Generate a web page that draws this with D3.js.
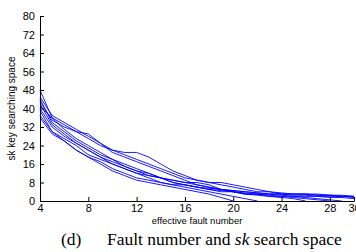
<!DOCTYPE html>
<html>
<head>
<meta charset="utf-8">
<script src="https://cdn.jsdelivr.net/npm/d3@7"></script>
<style>
  body { margin: 0; background: #fff; }
  svg text { font-family: "Liberation Sans", Arial, sans-serif; }
</style>
</head>
<body>
<div id="chart"></div>
<script>
// fault number on x, first sample at 4
const faultStart = 4;
const xTicks = [4, 8, 12, 16, 20, 24, 28, 30];
const yTicks = [0, 8, 16, 24, 32, 40, 48, 56, 64, 72, 80];

const run1 = [48, 36, 31, 27, 24, 21, 18, 16, 14, 12, 10, 9, 8, 7, 6, 5, 4.5, 4, 3.5, 3, 3, 2.5, 2.5, 2, 2, 2, 1.5];
const run2 = [44, 34, 30, 26, 23, 20, 18, 15, 13, 11, 10, 8, 7, 6, 5.5, 5, 4.5, 4, 3.5, 3, 2.5, 2, 1.5, 1, 0.5, 0];
const run3 = [43, 35, 32, 30, 29, 25, 21, 19, 17, 15, 13, 11, 9, 7, 6, 5, 4, 3, 2.5, 2, 1.5, 1, 0];
const run4 = [42, 33, 29, 25, 22, 19, 17, 15, 13, 12, 10, 9, 8, 8, 7, 5, 4, 3, 3, 3, 3, 3, 3, 2.5, 2.5, 2, 2];
const run5 = [41, 36, 33, 30, 27, 24, 22, 21, 21, 19, 16, 13, 11, 9, 8, 8, 7, 6, 5, 4, 3, 3, 3, 3, 2.5, 2.5, 2];
const run6 = [40, 32, 28, 25, 22, 19, 16, 14, 12, 10, 8, 7, 6, 5, 4, 3, 2, 1, 0];
const run7 = [39, 30, 27, 24, 20, 18, 16, 14, 12, 11, 10, 8, 7, 6, 5, 4.5, 4, 3.5, 3, 2.5, 2, 1.5, 1, 0.5, 0];
const run8 = [37, 30, 26, 22, 19, 16, 13, 11, 9, 8, 7, 6, 5, 4, 3, 1.5, 0];
const run9 = [36, 29, 26, 22, 19, 17, 14, 12, 10, 9, 8, 7, 7, 6, 5, 4, 4, 3, 3, 2, 2, 2, 2, 2, 1.5, 1.5, 1];
const run10 = [45, 37, 34, 31, 28, 25, 22, 20, 18, 16, 14, 12, 10, 9, 8, 7, 6, 5, 4, 4, 3.5, 3, 3, 2.5, 2.5, 2, 2];
const runs = [run1, run2, run3, run4, run5, run6, run7, run8, run9, run10];

const width = 356, height = 252;
const margin = {top: 16, right: 2, bottom: 51, left: 40};

const svg = d3.select("#chart").append("svg")
    .attr("width", width)
    .attr("height", height);

const x = d3.scaleLinear().domain([4, 30]).range([margin.left, 354]);
const y = d3.scaleLinear().domain([0, 80]).range([height - margin.bottom, margin.top]);

const line = d3.line()
    .x((d, i) => x(faultStart + i))
    .y(d => y(d));

svg.append("g")
    .attr("fill", "none")
    .attr("stroke", "#0000ff")
    .attr("stroke-width", 0.9)
  .selectAll("path")
  .data(runs)
  .join("path")
    .attr("d", line);

// axes, matlab style ticks pointing inward
const xAxis = svg.append("g")
    .attr("transform", `translate(0,${y(0)})`)
    .call(d3.axisBottom(x).tickValues(xTicks).tickSizeInner(-4).tickSizeOuter(0).tickPadding(3));

const yAxis = svg.append("g")
    .attr("transform", `translate(${x(4)},0)`)
    .call(d3.axisLeft(y).tickValues(yTicks).tickSizeInner(-4).tickSizeOuter(0).tickPadding(5));

[xAxis, yAxis].forEach(g => {
  g.select(".domain").attr("stroke", "#000").attr("stroke-width", 1);
  g.selectAll(".tick line").attr("stroke", "#000");
  g.selectAll(".tick text").attr("font-size", 11).attr("fill", "#000")
      .style("font-family", "'Liberation Sans', Arial, sans-serif");
});

svg.append("text")
    .attr("x", 197)
    .attr("y", 224)
    .attr("text-anchor", "middle")
    .attr("font-size", 9.5)
    .text("effective fault number");

svg.append("text")
    .attr("transform", `translate(15,${(y(0) + y(80)) / 2}) rotate(-90)`)
    .attr("text-anchor", "middle")
    .attr("font-size", 10)
    .text("sk key searching space");

const caption = svg.append("text")
    .attr("y", 245)
    .style("font-family", "'Liberation Serif', 'Times New Roman', serif")
    .attr("font-size", 17.5);

caption.append("tspan").attr("x", 61).text("(d)");
caption.append("tspan").attr("x", 107).text("Fault number and ");
caption.append("tspan").attr("font-style", "italic").text("sk");
caption.append("tspan").text(" search space");
</script>
</body>
</html>
